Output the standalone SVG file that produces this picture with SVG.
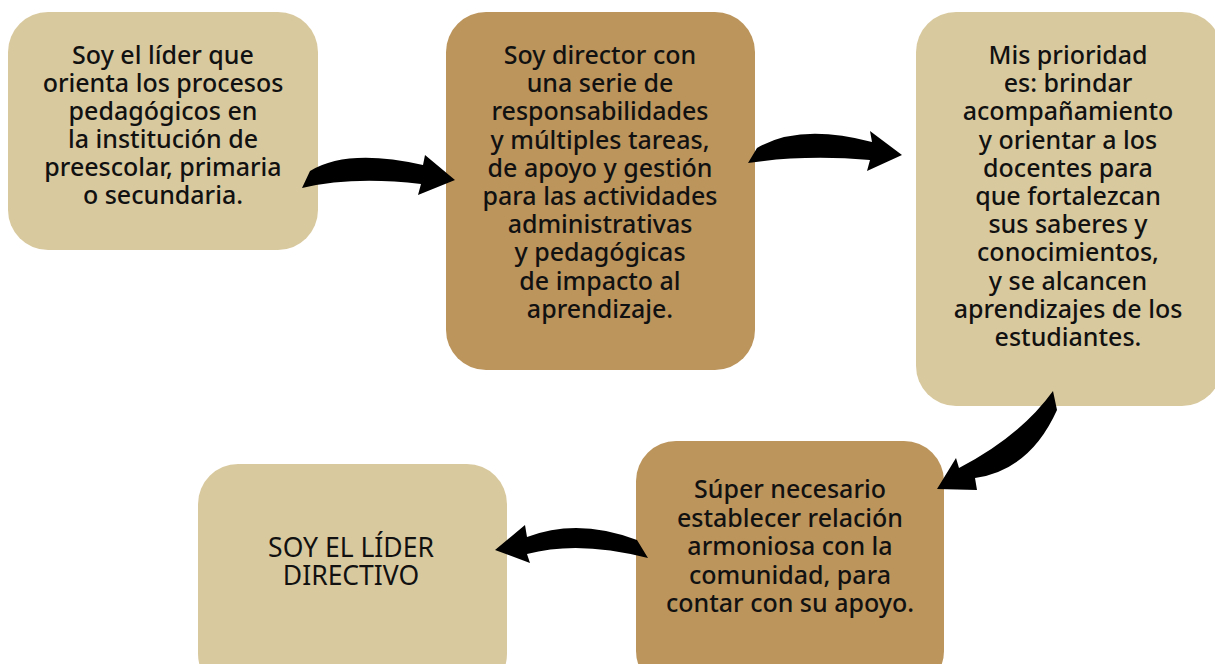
<svg xmlns="http://www.w3.org/2000/svg" width="1215" height="664" viewBox="0 0 1215 664">
<style>
.light{fill:#d9c99f}
.dark{fill:#bc955d}
.t{font-family:"Noto Sans","Open Sans","Liberation Sans",sans-serif;font-size:25px;font-weight:500;fill:#111;text-anchor:middle}
.n{font-weight:400;font-size:26.5px}
.arrow{fill:#000}
</style>
<rect width="1215" height="664" fill="#fff"/>
<g id="node1">
<rect class="light" x="8" y="12" width="310" height="238" rx="40"/>
<text class="t" x="163" y="64"><tspan x="163">Soy el líder que</tspan><tspan x="163" dy="28">orienta los procesos</tspan><tspan x="163" dy="28">pedagógicos en</tspan><tspan x="163" dy="28">la institución de</tspan><tspan x="163" dy="28">preescolar, primaria</tspan><tspan x="163" dy="28">o secundaria.</tspan></text>
</g>
<g id="node2">
<rect class="dark" x="446" y="12" width="309" height="358" rx="40"/>
<text class="t" x="600" y="64"><tspan x="600">Soy director con</tspan><tspan x="600" dy="28.2">una serie de</tspan><tspan x="600" dy="28.2">responsabilidades</tspan><tspan x="600" dy="28.2">y múltiples tareas,</tspan><tspan x="600" dy="28.2">de apoyo y gestión</tspan><tspan x="600" dy="28.2">para las actividades</tspan><tspan x="600" dy="28.2">administrativas</tspan><tspan x="600" dy="28.2">y pedagógicas</tspan><tspan x="600" dy="28.2">de impacto al</tspan><tspan x="600" dy="28.2">aprendizaje.</tspan></text>
</g>
<g id="node3">
<rect class="light" x="916" y="12" width="306" height="394" rx="40"/>
<text class="t" x="1068" y="64"><tspan x="1068">Mis prioridad</tspan><tspan x="1068" dy="28.2">es: brindar</tspan><tspan x="1068" dy="28.2">acompañamiento</tspan><tspan x="1068" dy="28.2">y orientar a los</tspan><tspan x="1068" dy="28.2">docentes para</tspan><tspan x="1068" dy="28.2">que fortalezcan</tspan><tspan x="1068" dy="28.2">sus saberes y</tspan><tspan x="1068" dy="28.2">conocimientos,</tspan><tspan x="1068" dy="28.2">y se alcancen</tspan><tspan x="1068" dy="28.2">aprendizajes de los</tspan><tspan x="1068" dy="28.2">estudiantes.</tspan></text>
</g>
<g id="node4">
<rect class="dark" x="636" y="441" width="308" height="250" rx="40"/>
<text class="t" x="790" y="498"><tspan x="790">Súper necesario</tspan><tspan x="790" dy="28.5">establecer relación</tspan><tspan x="790" dy="28.5">armoniosa con la</tspan><tspan x="790" dy="28.5">comunidad, para</tspan><tspan x="790" dy="28.5">contar con su apoyo.</tspan></text>
</g>
<g id="node5">
<rect class="light" x="198" y="464" width="309" height="230" rx="40"/>
<text class="t n" x="351" y="557"><tspan x="351">SOY EL LÍDER</tspan><tspan x="351" dy="28">DIRECTIVO</tspan></text>
</g>
<g id="connectors">
<path class="arrow" d="M302,188 L310,171 Q347.5,148 423,165 L425,155 L455,180 L418,195 L421,184 Q352.5,176 302,188 Z"/>
<path class="arrow" d="M748,163 L757,148 Q799.5,123 872,142 L870,131 L902,155 L867,171 L870,160 Q805,154.5 748,163 Z"/>
<path class="arrow" d="M1053,391 L1057,410 Q1030,470 975,478 L977,490 L937,489 L956,458 L959,468 Q1020,436.5 1053,391 Z"/>
<path class="arrow" d="M637,540 L648,558 Q578.5,540 527,554 L530,563 L495,550 L525,525 L527,537 Q578,517.5 637,540 Z"/>
</g>
</svg>
